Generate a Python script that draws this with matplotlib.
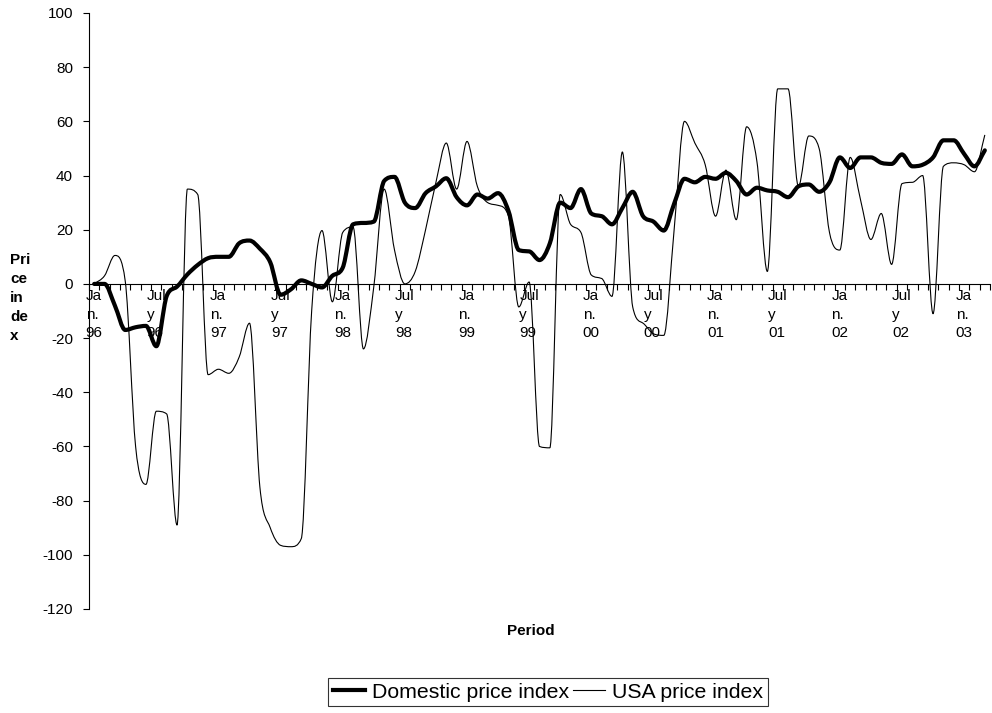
import numpy as np
import matplotlib.pyplot as plt
from matplotlib.path import Path
from matplotlib.patches import PathPatch
from matplotlib.lines import Line2D

plt.rcParams['font.family'] = ['Liberation Sans', 'DejaVu Sans']
plt.rcParams['axes.unicode_minus'] = False

# monthly series, Jan 96 - Mar 03
domestic = [0, 0, -8, -17, -16, -15.5, -23, -4.5, -1, 3.5,
            7, 9.5, 10, 10, 15, 16, 13, 8, -4, -2,
            1.3, 0, -1.3, 3, 6, 22, 22.5, 23, 38, 39.5,
            30, 28, 33.5, 36, 39, 32, 29, 33, 31.5, 33.5,
            27, 12.5, 12, 8.8, 15, 30, 28, 35, 26, 25,
            22, 28, 34, 25, 23, 19.7, 29.6, 38.8, 37.5, 39.5,
            38.8, 41, 38, 33, 35.5, 34.5, 34, 32, 36, 36.7,
            34, 37.5, 46.7, 42.8, 46.7, 46.7, 44.7, 44.3, 47.8, 43.4,
            44, 46.7, 53, 53, 48, 43.4, 49.3]

usa = [0, 3, 10.5, 1, -60, -74, -47, -48, -89, 35,
       33, -33.5, -31.5, -33, -27, -14.5, -75, -90, -96.5, -97,
       -94, -10, 19.7, -6.6, 19, 21, -24, -1, 35, 12.5,
       0, 4.6, 20, 37.5, 52, 35, 52.6, 36, 30, 29,
       25, -8.5, 0.7, -60, -60.5, 33, 22, 19, 3.3, 2,
       -4.6, 48.7, -8.5, -14.5, -18.4, -19, 20, 60, 52, 44,
       25, 42, 23.7, 58, 45, 4.6, 72, 72, 36, 54.6,
       50, 19, 12.5, 46.7, 31, 16.4, 26, 7.2, 37, 37.5,
       40, -11, 43.4, 44.7, 44, 41.4, 55]

years = ['96', '97', '98', '99', '00', '01', '02', '03']
tick_labels = []
for yr in years:
    tick_labels.append('Ja\nn.\n' + yr)
    tick_labels.append('Jul\ny\n' + yr)
tick_labels = tick_labels[:15]

x = np.arange(len(domestic))


def smooth_path(xs, ys):
    # cubic bezier through every point, monotone tangents so peaks don't overshoot
    xs = np.asarray(xs, dtype=float)
    ys = np.asarray(ys, dtype=float)
    n = len(ys)
    h = np.diff(xs)
    d = np.diff(ys) / h
    m = np.zeros(n)
    m[0] = d[0]
    m[-1] = d[-1]
    for i in range(1, n - 1):
        if d[i - 1] * d[i] <= 0:
            m[i] = 0.0
        else:
            m[i] = (d[i - 1] + d[i]) / 2
    for i in range(n - 1):
        if d[i] == 0:
            m[i] = m[i + 1] = 0.0
            continue
        a = m[i] / d[i]
        b = m[i + 1] / d[i]
        s = a * a + b * b
        if s > 9:
            t = 3 / np.sqrt(s)
            m[i] = t * a * d[i]
            m[i + 1] = t * b * d[i]
    verts = [(xs[0], ys[0])]
    codes = [Path.MOVETO]
    for i in range(n - 1):
        dx = h[i] / 3
        verts += [(xs[i] + dx, ys[i] + m[i] * dx),
                  (xs[i + 1] - dx, ys[i + 1] - m[i + 1] * dx),
                  (xs[i + 1], ys[i + 1])]
        codes += [Path.CURVE4] * 3
    return Path(verts, codes)


fig = plt.figure(figsize=(9.92, 7.13), dpi=100)
ax = fig.add_axes([89 / 992, 1 - 609 / 713, 901 / 992, 596 / 713])

ax.add_patch(PathPatch(smooth_path(x, usa), fill=False, edgecolor='black',
                       linewidth=0.8, joinstyle='round'))
ax.add_patch(PathPatch(smooth_path(x, domestic), fill=False, edgecolor='black',
                       linewidth=3.0, joinstyle='round', capstyle='round'))

ax.set_xlim(-0.5, len(domestic) - 0.5)
ax.set_ylim(-120, 100)

ax.spines['top'].set_visible(False)
ax.spines['right'].set_visible(False)
ax.spines['bottom'].set_position(('data', 0))
ax.spines['left'].set_linewidth(0.8)
ax.spines['bottom'].set_linewidth(0.8)

ax.set_yticks(range(-120, 101, 20))
ax.tick_params(axis='y', length=4.5, width=0.8, pad=7, labelsize=11)

ax.set_xticks(np.arange(0, len(domestic), 6))
ax.set_xticklabels(tick_labels, multialignment='left', linespacing=1.38)
ax.set_xticks(np.arange(-0.5, len(domestic), 1), minor=True)
ax.tick_params(axis='x', which='major', length=0, pad=4, labelsize=11)
ax.tick_params(axis='x', which='minor', length=4.5, width=0.8, direction='out')

fig.text(10 / 992, 1 - 298 / 713, 'Pri\nce\nin\nde\nx', fontsize=11,
         fontweight='bold', ha='left', va='center', linespacing=1.45)
fig.text(531 / 992, 1 - 631 / 713, 'Period', fontsize=11,
         fontweight='bold', ha='center', va='center')

handles = [Line2D([], [], color='black', linewidth=3.0),
           Line2D([], [], color='black', linewidth=0.8)]
leg = fig.legend(handles, ['Domestic price index', 'USA price index'],
                 loc='center', bbox_to_anchor=(548 / 992, 1 - 692 / 713),
                 ncol=2, frameon=True, fancybox=False, shadow=False,
                 fontsize=15.3, handlelength=1.5, handletextpad=0.35,
                 columnspacing=0.15, borderpad=0.22, borderaxespad=0)
leg.get_frame().set_edgecolor('black')
leg.get_frame().set_linewidth(0.8)

fig.savefig('out.png', dpi=100)
